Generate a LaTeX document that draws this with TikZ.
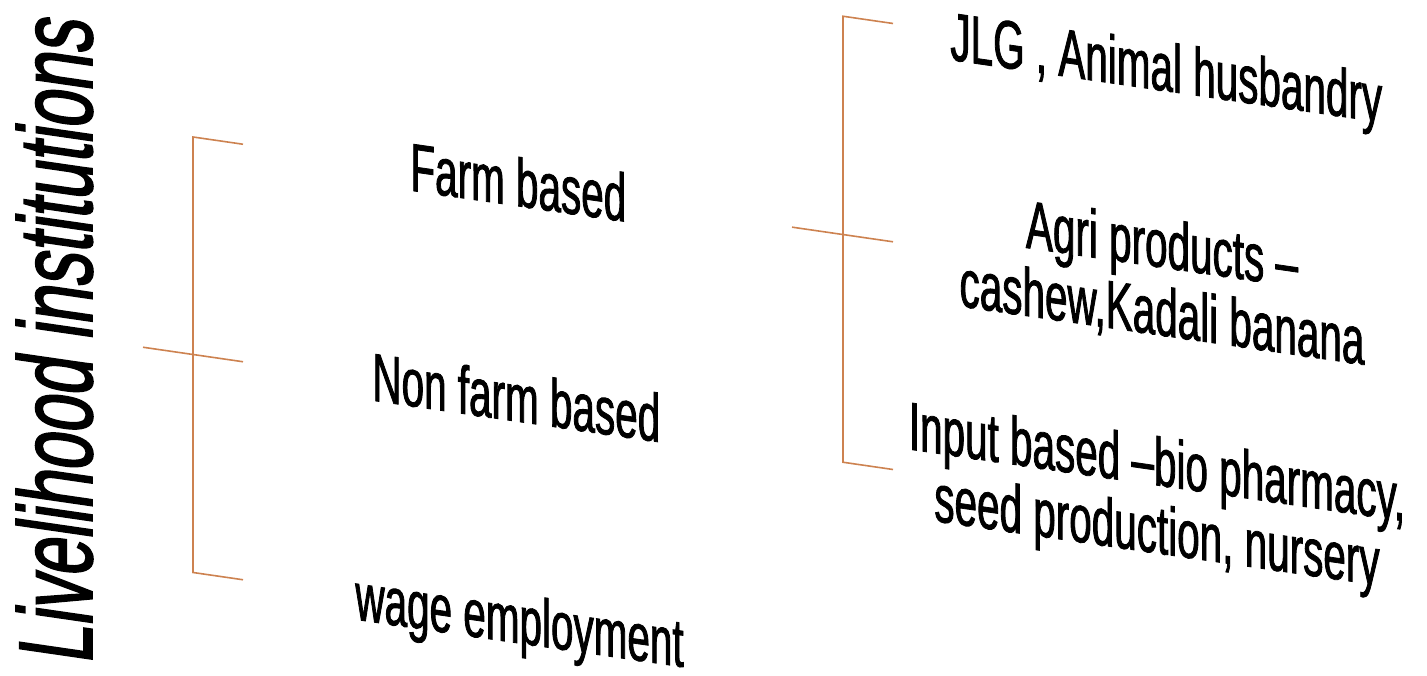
\documentclass[tikz,border=0pt]{standalone}
\usepackage{fontspec}
\newfontfamily\lblfont[FakeStretch=0.595,FakeBold=1.2]{Liberation Sans}
\newfontfamily\ttlfont[FakeStretch=0.645,FakeBold=1.5]{Liberation Sans}
\definecolor{brkcol}{RGB}{205,130,80}
\begin{document}
\begin{tikzpicture}[x=0.5pt,y=-0.5pt,
  lbl/.style={font=\lblfont\fontsize{34}{34}\selectfont, inner sep=0pt, transform shape},
  brk/.style={draw=brkcol, line width=0.8pt}]
\useasboundingbox (0,0) rectangle (1427,675);
\begin{scope}[yslant=-0.145]
  % title
  \node[font=\ttlfont\fontsize{52.5}{55}\selectfont, inner sep=0pt, rotate=90, transform shape, anchor=base west] (title) at (92,651.7) {Livelihood institutions};
  % left column
  \node[lbl, anchor=base west] (farm) at (410,131) {Farm based};
  \node[lbl, anchor=base west] (nonfarm) at (372,346.5) {Non farm based};
  \node[lbl, anchor=base west] (wage) at (355,568) {wage employment};
  % right column
  \node[lbl, anchor=base west] (jlg) at (950,-78) {JLG , Animal husbandry};
  \node[lbl, anchor=base, align=center] (agri) at (1162,167) {Agri products –\\cashew,Kadali banana};
  \node[lbl, anchor=base, align=center] (input) at (1157,385.5) {Input based –bio pharmacy,\\seed production, nursery};
  % left bracket
  \coordinate (l1) at (193,109);
  \coordinate (l1e) at (243,109);
  \coordinate (l2s) at (143,326.5);
  \coordinate (l2e) at (243,326.5);
  \coordinate (l3) at (193,544.5);
  \coordinate (l3e) at (243,544.5);
  \draw[brk] (l1e) -- (l1) -- (l3) -- (l3e);
  \draw[brk] (l2s) -- (l2e);
  % right bracket
  \coordinate (r1) at (843,-106);
  \coordinate (r1e) at (893,-106);
  \coordinate (r2s) at (792,112.3);
  \coordinate (r2e) at (893,112.3);
  \coordinate (r3) at (843,340);
  \coordinate (r3e) at (893,340);
  \draw[brk] (r1e) -- (r1) -- (r3) -- (r3e);
  \draw[brk] (r2s) -- (r2e);
\end{scope}
\end{tikzpicture}
\end{document}
